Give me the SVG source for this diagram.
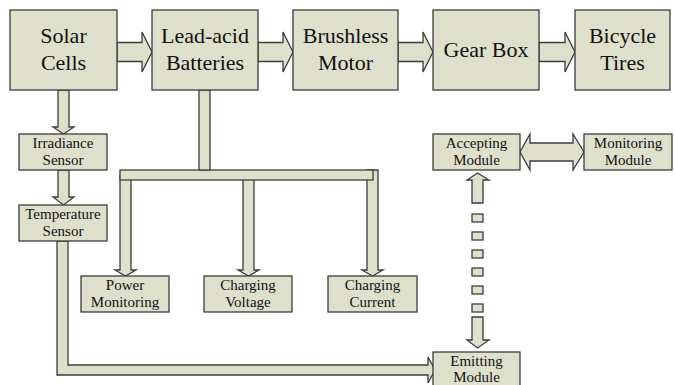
<svg xmlns="http://www.w3.org/2000/svg" width="675" height="385" viewBox="0 0 675 385">
<style>
.box{fill:#dee0cc;stroke:#3c3c3c;stroke-width:1.3}
.ar{fill:#dee0cc;stroke:#3c3c3c;stroke-width:1.3;stroke-linejoin:miter}
.big{font-family:"Liberation Serif","Times New Roman",serif;font-size:22px;fill:#111;text-anchor:middle}
.sm{font-family:"Liberation Serif","Times New Roman",serif;font-size:15px;fill:#111;text-anchor:middle}
</style>
<rect width="675" height="385" fill="#ffffff"/>
<g id="connectors">
  <polygon class="ar" points="117,42.5 142,42.5 142,32 152,52 142,72 142,61.5 117,61.5"/>
  <polygon class="ar" points="258,42.5 283,42.5 283,32 293,52 283,72 283,61.5 258,61.5"/>
  <polygon class="ar" points="398,42.5 423,42.5 423,32 433,52 423,72 423,61.5 398,61.5"/>
  <polygon class="ar" points="539,42.5 565,42.5 565,32 575,52 565,72 565,61.5 539,61.5"/>
  <polygon class="ar" points="58,90 69,90 69,127 74,127 63.5,134 53,127 58,127"/>
  <polygon class="ar" points="58,170 69,170 69,197 74,197 63.5,205 53,197 58,197"/>
  <polygon class="ar" points="120,175 131,175 131,270 136,270 125.5,276 115,270 120,270"/>
  <polygon class="ar" points="243,175 254,175 254,270 259,270 248.5,276 238,270 243,270"/>
  <polygon class="ar" points="367,170 378,170 378,270 383,270 372.5,276 362,270 367,270"/>
  <rect class="ar" x="120" y="170" width="253" height="10"/>
  <rect class="ar" x="199" y="90" width="11" height="80"/>
  <path class="ar" d="M57,241 H68 V365 H428 V357 L435,370 L428,383 V375 H57 Z"/>
  <polygon class="ar" points="520,152 530,134 530,143 573,143 573,134 584,152 573,170 573,161 530,161 530,170"/>
  <polygon class="ar" points="472,203 483,203 483,180 489,180 477.5,173 467,180 472,180"/>
  <rect class="ar" x="472" y="214" width="11" height="8"/>
  <rect class="ar" x="472" y="232" width="11" height="8"/>
  <rect class="ar" x="472" y="250" width="11" height="8"/>
  <rect class="ar" x="472" y="268" width="11" height="8"/>
  <rect class="ar" x="472" y="286" width="11" height="8"/>
  <rect class="ar" x="472" y="304" width="11" height="8"/>
  <polygon class="ar" points="472,317 483,317 483,340 489,340 477.5,348 467,340 472,340"/>
</g>
<g id="solar"><rect class="box" x="10" y="10" width="107" height="80"/><text class="big" x="63.5" y="43">Solar</text><text class="big" x="63.5" y="70">Cells</text></g>
<g id="battery"><rect class="box" x="152" y="10" width="106" height="80"/><text class="big" x="205" y="43">Lead-acid</text><text class="big" x="205" y="70">Batteries</text></g>
<g id="motor"><rect class="box" x="293" y="10" width="105" height="80"/><text class="big" x="345.5" y="43">Brushless</text><text class="big" x="345.5" y="70">Motor</text></g>
<g id="gearbox"><rect class="box" x="433" y="10" width="106" height="80"/><text class="big" x="486" y="57">Gear Box</text></g>
<g id="tires"><rect class="box" x="575" y="10" width="95" height="80"/><text class="big" x="622.5" y="43">Bicycle</text><text class="big" x="622.5" y="70">Tires</text></g>
<g id="irradiance"><rect class="box" x="19" y="134" width="88" height="36"/><text class="sm" x="63" y="148">Irradiance</text><text class="sm" x="63" y="165">Sensor</text></g>
<g id="temperature"><rect class="box" x="19" y="205" width="88" height="36"/><text class="sm" x="63" y="219">Temperature</text><text class="sm" x="63" y="236">Sensor</text></g>
<g id="power"><rect class="box" x="81" y="276" width="88" height="36"/><text class="sm" x="125" y="290">Power</text><text class="sm" x="125" y="307">Monitoring</text></g>
<g id="voltage"><rect class="box" x="204" y="276" width="88" height="36"/><text class="sm" x="248" y="290">Charging</text><text class="sm" x="248" y="307">Voltage</text></g>
<g id="current"><rect class="box" x="328" y="276" width="89" height="36"/><text class="sm" x="372.5" y="290">Charging</text><text class="sm" x="372.5" y="307">Current</text></g>
<g id="accepting"><rect class="box" x="433" y="134" width="87" height="36"/><text class="sm" x="476.5" y="148">Accepting</text><text class="sm" x="476.5" y="165">Module</text></g>
<g id="monitoring"><rect class="box" x="584" y="134" width="88" height="36"/><text class="sm" x="628" y="148">Monitoring</text><text class="sm" x="628" y="165">Module</text></g>
<g id="emitting"><rect class="box" x="433" y="352" width="87" height="38"/><text class="sm" x="476.5" y="366">Emitting</text><text class="sm" x="476.5" y="382">Module</text></g>
</svg>
